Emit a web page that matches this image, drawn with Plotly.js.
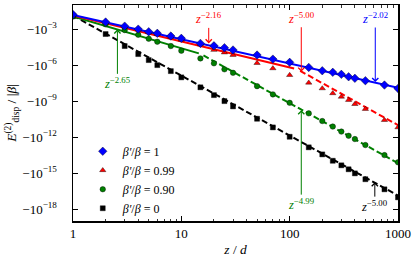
<!DOCTYPE html>
<html>
<head>
<meta charset="utf-8">
<script src="https://cdn.plot.ly/plotly-3.0.1.min.js"></script>
<style>html,body{margin:0;padding:0;background:#fff;}#chart{width:415px;height:260px;}</style>
</head>
<body>
<div id="chart"></div>
<script>
// separation z/d
const zPts = [1,2,3,4,5,6,8,10,15,20,25,30,50,70,100,150,200,250,300,350,400,500,750,1000];
// E_disp^(2)/|beta| for each beta'/beta
const eBeta100 = [-1.70e-2,-4.07e-3,-1.86e-3,-1.05e-3,-6.31e-4,-4.68e-4,-2.75e-4,-1.78e-4,-6.76e-5,-4.27e-5,-2.95e-5,-1.91e-5,-7.24e-6,-3.31e-6,-1.78e-6,-6.76e-7,-3.55e-7,-2.63e-7,-1.78e-7,-1.12e-7,-8.32e-8,-5.25e-8,-2.29e-8,-1.20e-8];
const eBeta099 = [-1.58e-2,-3.80e-3,-1.66e-3,-9.33e-4,-5.62e-4,-3.98e-4,-2.34e-4,-1.35e-4,-5.62e-5,-1.91e-5,-1.17e-5,-7.24e-6,-1.55e-6,-5.62e-7,-1.55e-7,-3.55e-8,-1.20e-8,-4.68e-9,-2.40e-9,-1.29e-9,-5.89e-10,-2.29e-10,-2.75e-11,-6.76e-12];
const eBeta090 = [-1.20e-2,-2.63e-3,-8.71e-4,-3.55e-4,-1.66e-4,-9.33e-5,-4.07e-5,-1.66e-5,-3.80e-6,-1.48e-6,-4.68e-7,-2.40e-7,-1.86e-8,-3.80e-9,-7.59e-10,-1.00e-10,-2.29e-11,-7.94e-12,-3.02e-12,-1.35e-12,-7.24e-13,-2.29e-13,-3.31e-14,-8.32e-15];
const eBeta000 = [-1.26e-2,-4.07e-4,-4.07e-5,-8.71e-6,-2.75e-6,-1.05e-6,-3.31e-7,-1.00e-7,-1.48e-8,-3.31e-9,-1.05e-9,-3.80e-10,-3.55e-11,-6.76e-12,-1.12e-12,-1.48e-13,-3.80e-14,-1.12e-14,-4.68e-15,-2.19e-15,-1.00e-15,-3.24e-16,-4.68e-17,-1.00e-17];
const seriesNames = ["<i>β′</i>/<i>β</i> = 1","<i>β′</i>/<i>β</i> = 0.99","<i>β′</i>/<i>β</i> = 0.90","<i>β′</i>/<i>β</i> = 0"];

// power-law fit segments (end points)
const fitBlueZ = [1,1000],   fitBlueE = [-1.60e-2,-1.38e-8];
const fitRedAZ = [1,110],    fitRedAE = [-1.41e-2,-5.50e-7];
const fitRedBZ = [125,1000], fitRedBE = [-3.47e-7,-1.05e-11];
const fitGreenAZ = [1,14.5], fitGreenAE = [-1.20e-2,-1.00e-5];
const fitGreenBZ = [16,1000],fitGreenBE = [-6.76e-6,-7.08e-15];
const fitBlackZ = [1,1000],  fitBlackE = [-1.41e-2,-1.41e-17];

// exponent annotations
const arrowZ = [617,17.9,128,2.57,128,611];
const arrowE = [-4.1e-8,-6.76e-5,-2.95e-7,-1.0e-3,-1.86e-10,-1.86e-16];
const arrowExp = ["−2.02","−2.16","−5.00","−2.65","−4.99","−5.00"];

const xTickVals = [1,10,100,1000];
const xTickText = ["1","10","100","1000"];
const yTickVals = [1e-3,1e-6,1e-9,1e-12,1e-15,1e-18];
const yTickText = ["−10<sup>−3</sup>","−10<sup>−6</sup>","−10<sup>−9</sup>","−10<sup>−12</sup>","−10<sup>−15</sup>","−10<sup>−18</sup>"];

const abs = a => a.map(Math.abs);
const BLUE="#0000ff", RED="#ff0000", GREEN="#008000", BLACK="#000000";
const FONT = "Liberation Serif, DejaVu Serif, serif";

function line(z,e,color,dash){
  return {x:z,y:abs(e),mode:"lines",type:"scatter",showlegend:false,hoverinfo:"skip",
    line:{color:color,width:2,dash:dash}};
}
function pts(e,color,symbol,size,name){
  return {x:zPts,y:abs(e),mode:"markers",type:"scatter",name:name,
    marker:{color:color,symbol:symbol,size:size,line:{color:"#000",width:0.4}}};
}
const data = [
  line(fitBlackZ,fitBlackE,BLACK,"6px,3px"),
  line(fitGreenAZ,fitGreenAE,GREEN,"solid"),
  line(fitGreenBZ,fitGreenBE,GREEN,"6px,3px"),
  line(fitRedAZ,fitRedAE,RED,"solid"),
  line(fitRedBZ,fitRedBE,RED,"6px,3px"),
  line(fitBlueZ,fitBlueE,BLUE,"solid"),
  pts(eBeta000,BLACK,"square",5,seriesNames[3]),
  pts(eBeta090,GREEN,"circle",5.5,seriesNames[2]),
  pts(eBeta099,RED,"triangle-up",5.5,seriesNames[1]),
  pts(eBeta100,BLUE,"diamond",6.5,seriesNames[0])
];

const arrowColors = [BLUE,RED,RED,GREEN,GREEN,BLACK];
const arrowAY = [-64,-25,-54,54,94,24];
const annotations = arrowZ.map((z,i)=>({
  x:Math.log10(z), y:Math.log10(Math.abs(arrowE[i])), xref:"x", yref:"y",
  text:"<i>z</i><sup>"+arrowExp[i]+"</sup>", showarrow:true, arrowhead:4, arrowsize:1.2, arrowwidth:1,
  arrowcolor:arrowColors[i], ax:0, ay:arrowAY[i], font:{family:FONT,size:12.5,color:arrowColors[i]}
}));

const axisCommon = {showline:true,linecolor:"#000",linewidth:1.5,mirror:"ticks",ticks:"inside",
  tickcolor:"#000",tickwidth:1,ticklen:5,showgrid:false,zeroline:false,
  tickfont:{family:FONT,size:13,color:"#000"}};

const layout = {
  width:415,height:260,margin:{l:73,r:17,t:5,b:39},
  paper_bgcolor:"#fff",plot_bgcolor:"#fff",
  font:{family:FONT,size:12,color:"#000"},
  xaxis:Object.assign({},axisCommon,{type:"log",range:[0,3],tickmode:"array",tickvals:xTickVals,ticktext:xTickText,
    minor:{ticks:"inside",ticklen:2.5,tickwidth:0.8,tickcolor:"#000",tickmode:"array",
      tickvals:[2,3,4,5,6,7,8,9,20,30,40,50,60,70,80,90,200,300,400,500,600,700,800,900]},
    title:{text:"<i>z</i> / <i>d</i>",font:{family:FONT,size:13.5},standoff:4}}),
  yaxis:Object.assign({},axisCommon,{type:"log",range:[-18.97,-0.97],tickmode:"array",tickvals:yTickVals,ticktext:yTickText,
    ticklabelstandoff:12,
    title:{text:"<i>E</i><sup>(2)</sup><sub>disp</sub> / |<i>β</i>|",font:{family:FONT,size:13.5},standoff:2}}),
  legend:{x:0.03,y:0.39,xanchor:"left",yanchor:"top",traceorder:"reversed",bgcolor:"rgba(0,0,0,0)",
    font:{family:FONT,size:12,color:"#000"}},
  annotations:annotations
};
Plotly.newPlot("chart",data,layout,{staticPlot:true,displayModeBar:false});
</script>
</body>
</html>
